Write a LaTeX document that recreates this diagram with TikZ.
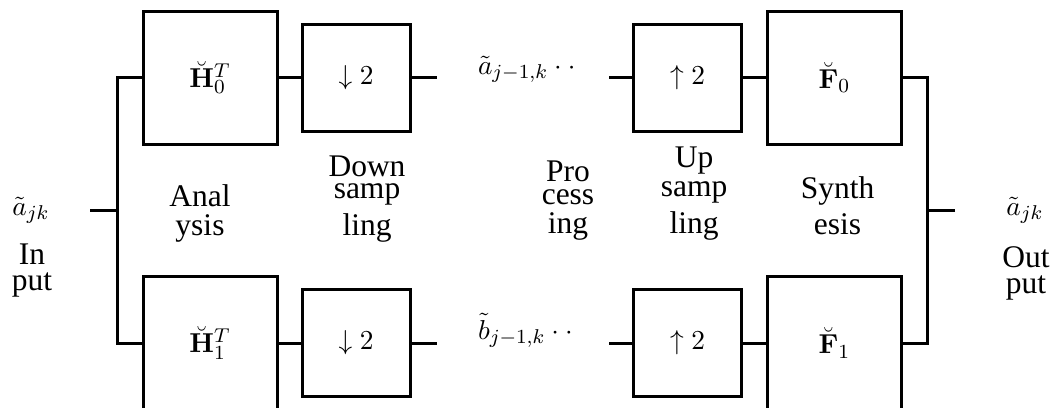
\documentclass[tikz,border=0pt]{standalone}
\usepackage[no-math]{fontspec}
\setmainfont{Liberation Serif}
\newcommand\stk[1]{\vbox{\baselineskip=-1pt\lineskip=3pt\lineskiplimit=0pt\halign{\hfil##\hfil\cr#1\crcr}}}
\tikzset{
  bigbox/.style={draw, minimum width=53.6pt, minimum height=53.2pt, inner sep=0pt, outer sep=0pt},
  smallbox/.style={draw, minimum width=43.2pt, minimum height=42.8pt, inner sep=0pt, outer sep=0pt},
  lbl/.style={anchor=base, inner sep=0pt, outer sep=0pt},
  lblw/.style={anchor=base west, inner sep=0pt, outer sep=0pt},
  txt/.style={lbl, font=\fontsize{12.6}{15}\selectfont}
}
\begin{document}
\begin{tikzpicture}[x=0.4pt, y=-0.4pt, line width=1.2pt, font=\fontsize{10.95}{13}\selectfont]
\useasboundingbox (0,0) rectangle (1064,407);
% boxes
\node[bigbox]   (H0) at (210,77.5)   {$\breve{\mathbf{H}}_0^T$};
\node[smallbox] (D0) at (356,77.5)   {$\downarrow 2$};
\node[smallbox] (U0) at (687.5,77.5) {$\uparrow 2$};
\node[bigbox]   (F0) at (834.5,77.5) {$\breve{\mathbf{F}}_0$};
\node[bigbox]   (H1) at (210,343)    {$\breve{\mathbf{H}}_1^T$};
\node[smallbox] (D1) at (356,343)    {$\downarrow 2$};
\node[smallbox] (U1) at (687.5,343)  {$\uparrow 2$};
\node[bigbox]   (F1) at (834.5,343)  {$\breve{\mathbf{F}}_1$};
% signal labels
\node[lblw] (ca) at (478,74)  {$\tilde{a}_{j-1,k}\cdot\cdot$};
\node[lblw] (cb) at (478,339) {$\tilde{b}_{j-1,k}\cdot\cdot$};
\node[lbl] (ain)  at (31,215)  {$\tilde{a}_{jk}$};
\node[lbl] (aout) at (1025,215) {$\tilde{a}_{jk}$};
% text labels
\node[txt] (tin)  at (32,290)    {\stk{In\cr put}};
\node[txt] (tout) at (1026,293)  {\stk{Out\cr put}};
\node[txt] (tana) at (200,235)   {\stk{Anal\cr ysis}};
\node[txt] (tdown) at (367,235)  {\stk{Down\cr samp\cr ling}};
\node[txt] (tproc) at (568,233)  {\stk{Pro\cr cess\cr ing}};
\node[txt] (tup) at (694,233)    {\stk{Up\cr samp\cr ling}};
\node[txt] (tsyn) at (837.5,234) {\stk{Synth\cr esis}};
% connectors
\coordinate (in)  at (90,210.25);
\coordinate (out) at (955,210.25);
\draw (H0.west) -- ++(-26,0) |- (H1.west);
\draw (in) -- ++(27,0);
\draw (F0.east) -- ++(26,0) |- (F1.east);
\draw (out) -- ++(-27,0);
\draw (H0) -- (D0);
\draw (H1) -- (D1);
\draw (U0) -- (F0);
\draw (U1) -- (F1);
\draw (D0.east) -- ++(27,0);
\draw (D1.east) -- ++(27,0);
\draw (U0.west) -- ++(-25,0);
\draw (U1.west) -- ++(-25,0);
\end{tikzpicture}
\end{document}
